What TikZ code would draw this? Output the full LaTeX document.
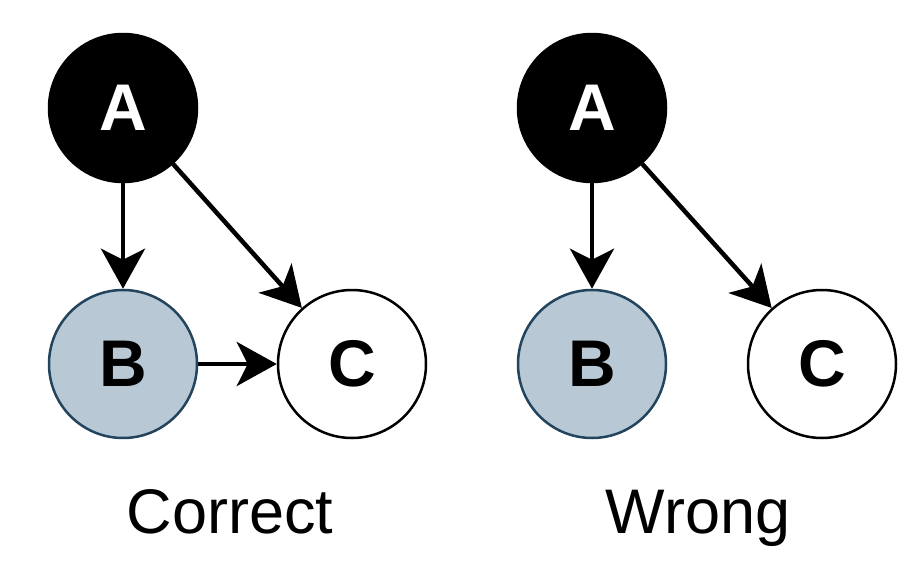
\documentclass[tikz,border=0pt]{standalone}
\usepackage{fontspec}
\setmainfont{Liberation Sans}
\usetikzlibrary{arrows.meta}
\definecolor{obsfill}{HTML}{B8C9D5}
\definecolor{obsline}{HTML}{23445D}
\begin{document}
\begin{tikzpicture}[x=1pt,y=-1pt,
  var/.style={circle,minimum size=148pt,inner sep=0pt,line width=2.5pt,
    font=\fontsize{66}{66}\selectfont\bfseries},
  latent/.style={var,draw=black,fill=black,text=white},
  observed/.style={var,draw=obsline,fill=obsfill,text=black},
  plain/.style={var,draw=black,fill=white,text=black},
  edge/.style={line width=4.5pt,-{Stealth[length=40pt,width=44pt,inset=11pt]}},
  caption/.style={anchor=base,font=\fontsize{63}{63}\selectfont}]
\useasboundingbox (0,0) rectangle (918,562);
\fill[white] (0,0) rectangle (918,562);

% left graph: A -> B, A -> C, B -> C
\node[latent]   (lA) at (123,108) {A};
\node[observed] (lB) at (123,364) {B};
\node[plain]    (lC) at (352,364) {C};
\draw[edge] (lA) -- (lB);
\draw[edge] (lA) -- (lC);
\draw[edge] (lB) -- (lC);
\node[caption] (lcap) at (230,533) {Correct};

% right graph: A -> B, A -> C
\node[latent]   (rA) at (592,108) {A};
\node[observed] (rB) at (592,364) {B};
\node[plain]    (rC) at (822,364) {C};
\draw[edge] (rA) -- (rB);
\draw[edge] (rA) -- (rC);
\node[caption] (rcap) at (698,533) {Wrong};
\end{tikzpicture}
\end{document}
